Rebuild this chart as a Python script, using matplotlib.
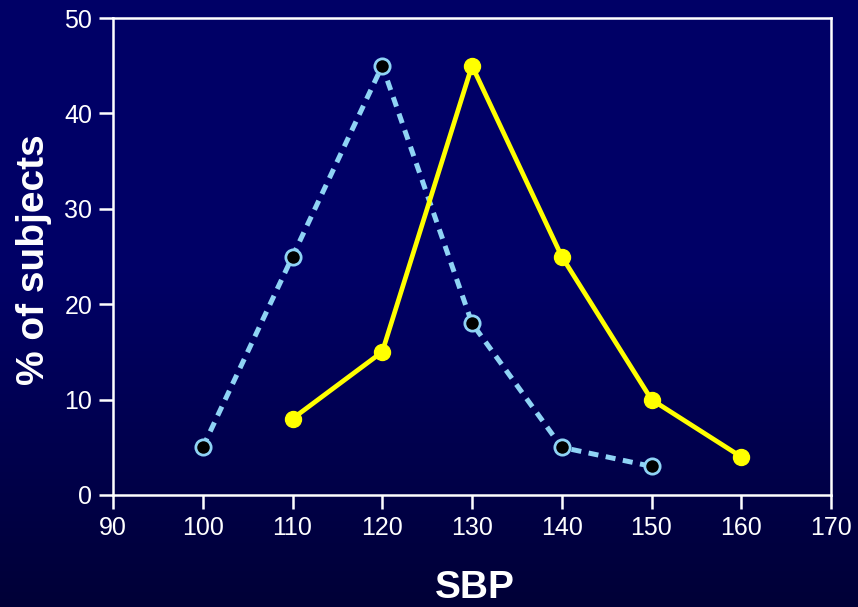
import numpy as np
import matplotlib
matplotlib.use("Agg")
import matplotlib.pyplot as plt

# SBP distributions (% of subjects)
sbp_blue = [100, 110, 120, 130, 140, 150]
pct_blue = [5, 25, 45, 18, 5, 3]
sbp_yellow = [110, 120, 130, 140, 150, 160]
pct_yellow = [8, 15, 45, 25, 10, 4]

xticks = [90, 100, 110, 120, 130, 140, 150, 160, 170]
yticks = [0, 10, 20, 30, 40, 50]

plt.rcParams['font.family'] = ['Liberation Sans', 'DejaVu Sans']

fig = plt.figure(figsize=(8.58, 6.07), dpi=100)

# background gradient
bg = fig.add_axes([0, 0, 1, 1], zorder=-10)
rows = 607
t = np.linspace(0, 1, rows)
top = np.array([0, 0, 102]) / 255
bot = np.array([0, 0, 55]) / 255
w = np.clip((t - 0.45) / 0.55, 0, 1)[:, None]
grad = top * (1 - w) + bot * w
bg.imshow(grad[:, None, :], aspect='auto', extent=[0, 1, 0, 1])
bg.axis('off')

ax = fig.add_axes([113/858, 1 - 495/607, (831-113)/858, (495-18)/607])
ax.set_facecolor('none')
ax.plot(sbp_blue, pct_blue, color='#8fd3f5', ls=(0, (2.0, 1.5)), lw=3.6,
        marker='o', ms=11, mfc='black', mec='#8fd3f5', mew=2, zorder=3)
ax.plot(sbp_yellow, pct_yellow, color='#ffff00', lw=3.4,
        marker='o', ms=11.5, mfc='#ffff00', mec='#ffff00', zorder=4)

ax.set_xlim(90, 170)
ax.set_ylim(0, 50)
ax.set_xticks(xticks)
ax.set_yticks(yticks)
for s in ax.spines.values():
    s.set_color('white')
    s.set_linewidth(1.8)
ax.tick_params(colors='white', labelcolor='white', labelsize=18,
               length=10, width=1.8, direction='out', pad=5)

fig.text(34/858, 1 - 260/607, '% of subjects', rotation=90, color='white',
         fontsize=28, fontweight='bold', ha='center', va='center')
fig.text(475/858, 1 - 588/607, 'SBP', color='white',
         fontsize=28, fontweight='bold', ha='center', va='center')

fig.savefig('out.png', dpi=100)
